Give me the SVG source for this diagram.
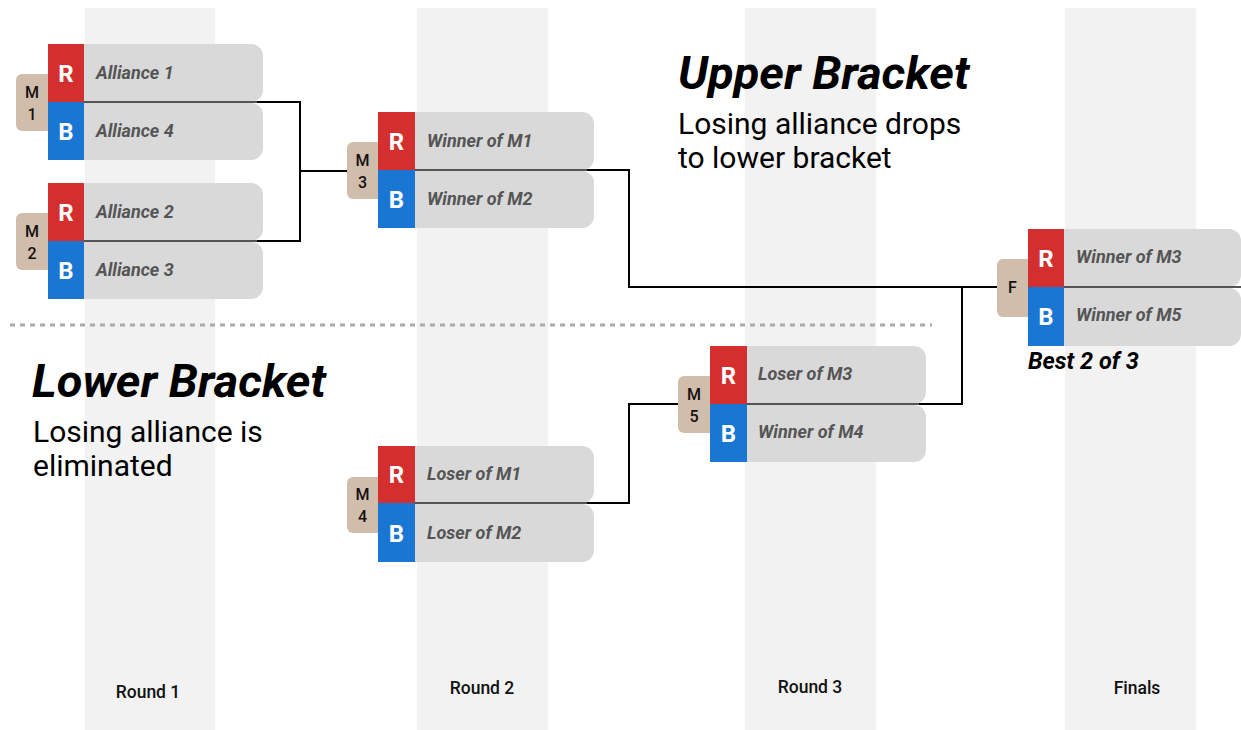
<svg xmlns="http://www.w3.org/2000/svg" width="1241" height="730" viewBox="0 0 1241 730">
<style>
.col{fill:#f2f2f2}
.tag{fill:#d1bdab}
.red{fill:#d32f2f}
.blue{fill:#1976d2}
.slot{fill:#d9d9d9}
.sep{stroke:#555;stroke-width:2}
.rb{font-family:Roboto,"Liberation Sans",sans-serif;font-weight:bold;font-size:24px;fill:#fff;text-anchor:middle}
.tg{font-family:Roboto,"Liberation Sans",sans-serif;font-weight:500;font-size:16px;fill:#111;text-anchor:middle}
.nm{font-family:Roboto,"Liberation Sans",sans-serif;font-weight:bold;font-style:italic;font-size:18px;fill:#555}
.head{font-family:Roboto,"Liberation Sans",sans-serif;font-weight:bold;font-style:italic;font-size:47px;fill:#000}
.sub{font-family:Roboto,"Liberation Sans",sans-serif;font-size:30px;fill:#000}
.rnd{font-family:Roboto,"Liberation Sans",sans-serif;font-weight:500;font-size:17.5px;fill:#111;text-anchor:middle}
.conn{fill:none;stroke:#000;stroke-width:2}
</style>
<g id="columns">
<rect class="col" x="85" y="8" width="130" height="722"/>
<rect class="col" x="417" y="8" width="131" height="722"/>
<rect class="col" x="745" y="8" width="131" height="722"/>
<rect class="col" x="1065" y="8" width="131" height="722"/>
</g>
<g id="round-labels">
<text class="rnd" x="148" y="698">Round 1</text>
<text class="rnd" x="482" y="694">Round 2</text>
<text class="rnd" x="810" y="693">Round 3</text>
<text class="rnd" x="1137" y="694">Finals</text>
</g>
<line x1="10" y1="325" x2="932" y2="325" stroke="#aaa" stroke-width="3" stroke-dasharray="5 5"/>
<g id="headings">
<text class="head" x="678" y="89">Upper Bracket</text>
<text class="sub" x="678" y="134">Losing alliance drops</text>
<text class="sub" x="678" y="168">to lower bracket</text>
<text class="head" x="32" y="397">Lower Bracket</text>
<text class="sub" x="33" y="442">Losing alliance is</text>
<text class="sub" x="33" y="476">eliminated</text>
</g>
<g id="connectors">
<path class="conn" d="M256 102H300V241H256"/>
<path class="conn" d="M300 171H348"/>
<path class="conn" d="M586 170H629V287H997"/>
<path class="conn" d="M586 503H629V404H678"/>
<path class="conn" d="M918 404H962V287"/>
</g>
<g id="M1">
<rect class="tag" x="16" y="74" width="40" height="57" rx="6"/>
<rect class="slot" x="70" y="44" width="193" height="58" rx="12"/>
<rect class="slot" x="70" y="103" width="193" height="57" rx="12"/>
<rect class="red" x="48" y="44" width="36" height="58"/>
<rect class="blue" x="48" y="102" width="36" height="58"/>
<line class="sep" x1="84" y1="102" x2="257" y2="102"/>
<text class="rb" x="66" y="82">R</text>
<text class="rb" x="66" y="140">B</text>
<text class="tg" x="32" y="98">M</text>
<text class="tg" x="32" y="120">1</text>
<text class="nm" x="96" y="79">Alliance 1</text>
<text class="nm" x="96" y="137">Alliance 4</text>
</g>
<g id="M2">
<rect class="tag" x="16" y="213" width="40" height="57" rx="6"/>
<rect class="slot" x="70" y="183" width="193" height="58" rx="12"/>
<rect class="slot" x="70" y="242" width="193" height="57" rx="12"/>
<rect class="red" x="48" y="183" width="36" height="58"/>
<rect class="blue" x="48" y="241" width="36" height="58"/>
<line class="sep" x1="84" y1="241" x2="257" y2="241"/>
<text class="rb" x="66" y="221">R</text>
<text class="rb" x="66" y="279">B</text>
<text class="tg" x="32" y="237">M</text>
<text class="tg" x="32" y="259">2</text>
<text class="nm" x="96" y="218">Alliance 2</text>
<text class="nm" x="96" y="276">Alliance 3</text>
</g>
<g id="M3">
<rect class="tag" x="347" y="142" width="40" height="57" rx="6"/>
<rect class="slot" x="400" y="112" width="194" height="58" rx="12"/>
<rect class="slot" x="400" y="171" width="194" height="57" rx="12"/>
<rect class="red" x="378" y="112" width="37" height="58"/>
<rect class="blue" x="378" y="170" width="37" height="58"/>
<line class="sep" x1="415" y1="170" x2="587" y2="170"/>
<text class="rb" x="396.5" y="150">R</text>
<text class="rb" x="396.5" y="208">B</text>
<text class="tg" x="362.5" y="166">M</text>
<text class="tg" x="362.5" y="188">3</text>
<text class="nm" x="427" y="147">Winner of M1</text>
<text class="nm" x="427" y="205">Winner of M2</text>
</g>
<g id="M4">
<rect class="tag" x="347" y="477" width="40" height="56" rx="6"/>
<rect class="slot" x="400" y="446" width="194" height="57" rx="12"/>
<rect class="slot" x="400" y="504" width="194" height="58" rx="12"/>
<rect class="red" x="378" y="446" width="37" height="57"/>
<rect class="blue" x="378" y="503" width="37" height="59"/>
<line class="sep" x1="415" y1="503" x2="587" y2="503"/>
<text class="rb" x="396.5" y="483">R</text>
<text class="rb" x="396.5" y="542">B</text>
<text class="tg" x="362.5" y="500">M</text>
<text class="tg" x="362.5" y="522">4</text>
<text class="nm" x="427" y="480">Loser of M1</text>
<text class="nm" x="427" y="539">Loser of M2</text>
</g>
<g id="M5">
<rect class="tag" x="678" y="376" width="40" height="57" rx="6"/>
<rect class="slot" x="730" y="346" width="196" height="58" rx="12"/>
<rect class="slot" x="730" y="405" width="196" height="57" rx="12"/>
<rect class="red" x="710" y="346" width="37" height="58"/>
<rect class="blue" x="710" y="404" width="37" height="58"/>
<line class="sep" x1="747" y1="404" x2="919" y2="404"/>
<text class="rb" x="728.5" y="384">R</text>
<text class="rb" x="728.5" y="442">B</text>
<text class="tg" x="694" y="400">M</text>
<text class="tg" x="694" y="422">5</text>
<text class="nm" x="758" y="380">Loser of M3</text>
<text class="nm" x="758" y="438">Winner of M4</text>
</g>
<g id="F">
<rect class="tag" x="997" y="259" width="40" height="58" rx="6"/>
<rect class="slot" x="1050" y="229" width="191" height="58" rx="12"/>
<rect class="slot" x="1050" y="288" width="191" height="58" rx="12"/>
<rect class="red" x="1028" y="229" width="36" height="58"/>
<rect class="blue" x="1028" y="287" width="36" height="59"/>
<line class="sep" x1="1064" y1="287" x2="1241" y2="287"/>
<text class="rb" x="1046" y="267">R</text>
<text class="rb" x="1046" y="325">B</text>
<text class="tg" x="1012.5" y="293">F</text>
<text class="nm" x="1076" y="263">Winner of M3</text>
<text class="nm" x="1076" y="321">Winner of M5</text>
<text x="1028" y="369" font-family="Roboto, 'Liberation Sans', sans-serif" font-weight="bold" font-style="italic" font-size="23.5" fill="#000">Best 2 of 3</text>
</g>
</svg>
